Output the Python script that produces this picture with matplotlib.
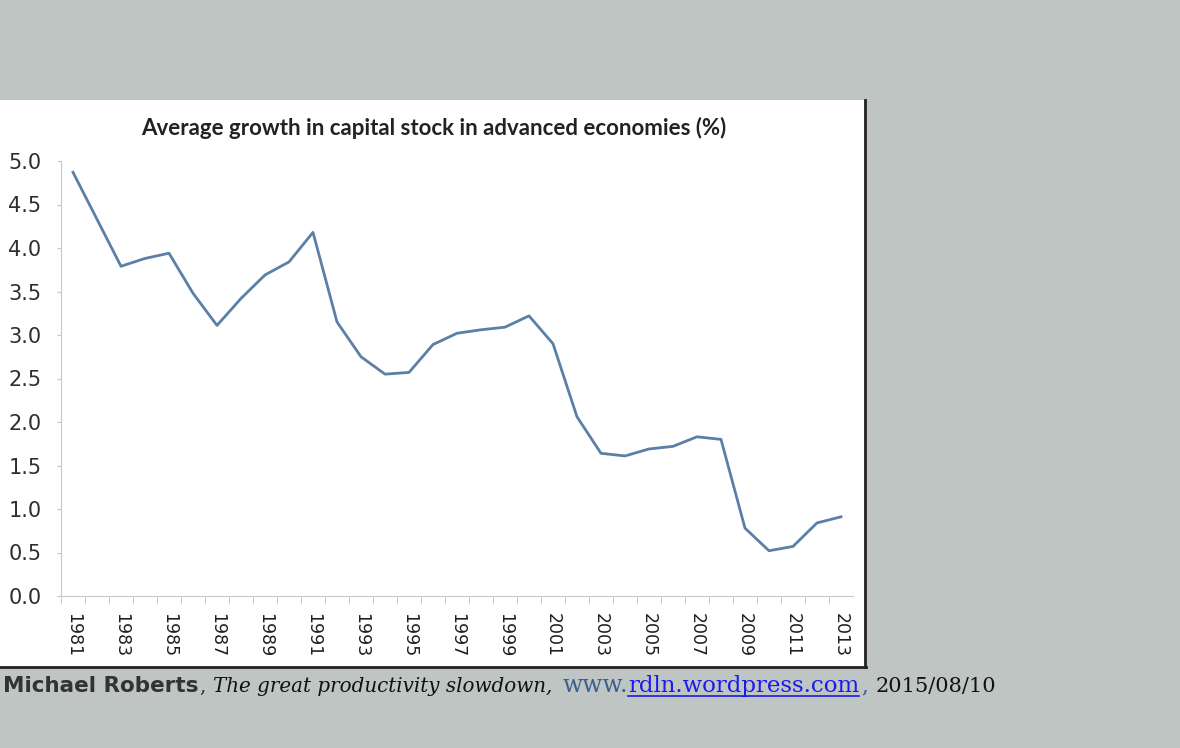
import matplotlib
matplotlib.use("Agg")
import matplotlib.pyplot as plt
from matplotlib.patches import Rectangle
from matplotlib.lines import Line2D

# Dane
lata = list(range(1981, 2014))
wzrost = [4.87, 4.33, 3.79, 3.88, 3.94, 3.48, 3.11, 3.42, 3.69, 3.84,
          4.18, 3.15, 2.75, 2.55, 2.57, 2.89, 3.02, 3.06, 3.09, 3.22,
          2.90, 2.06, 1.64, 1.61, 1.69, 1.72, 1.83, 1.80, 0.78, 0.52,
          0.57, 0.84, 0.91]
etykiety_lat = [str(r) for r in range(1981, 2014, 2)]
etykiety_y = [f"{v/2:.1f}" for v in range(0, 11)]

W, H = 1180, 748
fig = plt.figure(figsize=(W / 100, H / 100), dpi=100)
fig.patch.set_facecolor("#bec5c2")

# Biały panel wykresu z ciemną krawędzią
fig.patches.append(Rectangle((0, 1 - 667 / H), 865 / W, 567 / H,
                             transform=fig.transFigure, facecolor="white",
                             edgecolor="none", zorder=-5))
fig.add_artist(Line2D([865 / W, 865 / W], [1 - 667 / H, 1 - 100 / H],
                      transform=fig.transFigure, color="#222222", lw=2))
fig.add_artist(Line2D([0, 866 / W], [1 - 667 / H, 1 - 667 / H],
                      transform=fig.transFigure, color="#222222", lw=2))

ax = fig.add_axes([61 / W, 1 - 596 / H, 792 / W, 435 / H])
ax.set_zorder(2)
ax.set_facecolor("white")
ax.plot(lata, wzrost, color="#5a80a8", lw=2)

ax.set_xlim(1980.5, 2013.5)
ax.set_ylim(0, 5)
ax.set_yticks([v / 2 for v in range(0, 11)])
ax.set_yticklabels(etykiety_y, fontsize=15, color="#2e2e2e")
ax.set_xticks(list(range(1981, 2014, 2)))
ax.set_xticklabels(etykiety_lat, rotation=270, fontsize=12.5, color="#1e1e1e")
ax.set_xticks([r + 0.5 for r in range(1980, 2013)], minor=True)
ax.tick_params(axis="x", which="major", length=0, pad=12)
ax.tick_params(axis="x", which="minor", length=6, color="#c8c8c8")
ax.tick_params(axis="y", length=3, color="#c8c8c8", pad=11)

for s in ["top", "right"]:
    ax.spines[s].set_visible(False)
for s in ["left", "bottom"]:
    ax.spines[s].set_color("#c8c8c8")

fig.text(434 / W, 1 - 128 / H,
         "Average growth in capital stock in advanced economies (%)",
         ha="center", va="center", fontsize=16, fontweight="bold",
         family="Lato", color="#222222")

# Podpis pod wykresem - kawałki tekstu ustawiane jeden za drugim
yc = 1 - 686 / H
kawalki = [
    ("Michael Roberts", dict(fontsize=15.5, fontweight="bold", color="#333333", family="DejaVu Sans"), 1),
    (",", dict(fontsize=14.3, color="#333333", family="DejaVu Serif"), 7),
    ("The great productivity slowdown,", dict(fontsize=14.3, style="italic", color="#111111", family="DejaVu Serif"), 10),
    ("www.", dict(fontsize=17, color="#3a5f8f", family="DejaVu Serif"), 0),
    ("rdln.wordpress.com", dict(fontsize=16.5, color="#1a1aee", family="DejaVu Serif"), 2),
    (",", dict(fontsize=15.5, color="#3a5f8f", family="DejaVu Serif"), 8),
    ("2015/08/10", dict(fontsize=15, color="#111111", family="DejaVu Serif"), 0),
]
renderer = fig.canvas.get_renderer()
x_px = 3
for tekst, styl, odstep in kawalki:
    t = fig.text(x_px / W, yc, tekst, va="center", ha="left", **styl)
    bb = t.get_window_extent(renderer)
    if tekst == "rdln.wordpress.com":
        fig.add_artist(Line2D([bb.x0 / W, bb.x1 / W], [(bb.y0 + 1) / H] * 2,
                              transform=fig.transFigure, color="#1a1aee", lw=1.2))
    x_px = bb.x1 + odstep

fig.savefig("out.png", dpi=100, facecolor=fig.get_facecolor())
